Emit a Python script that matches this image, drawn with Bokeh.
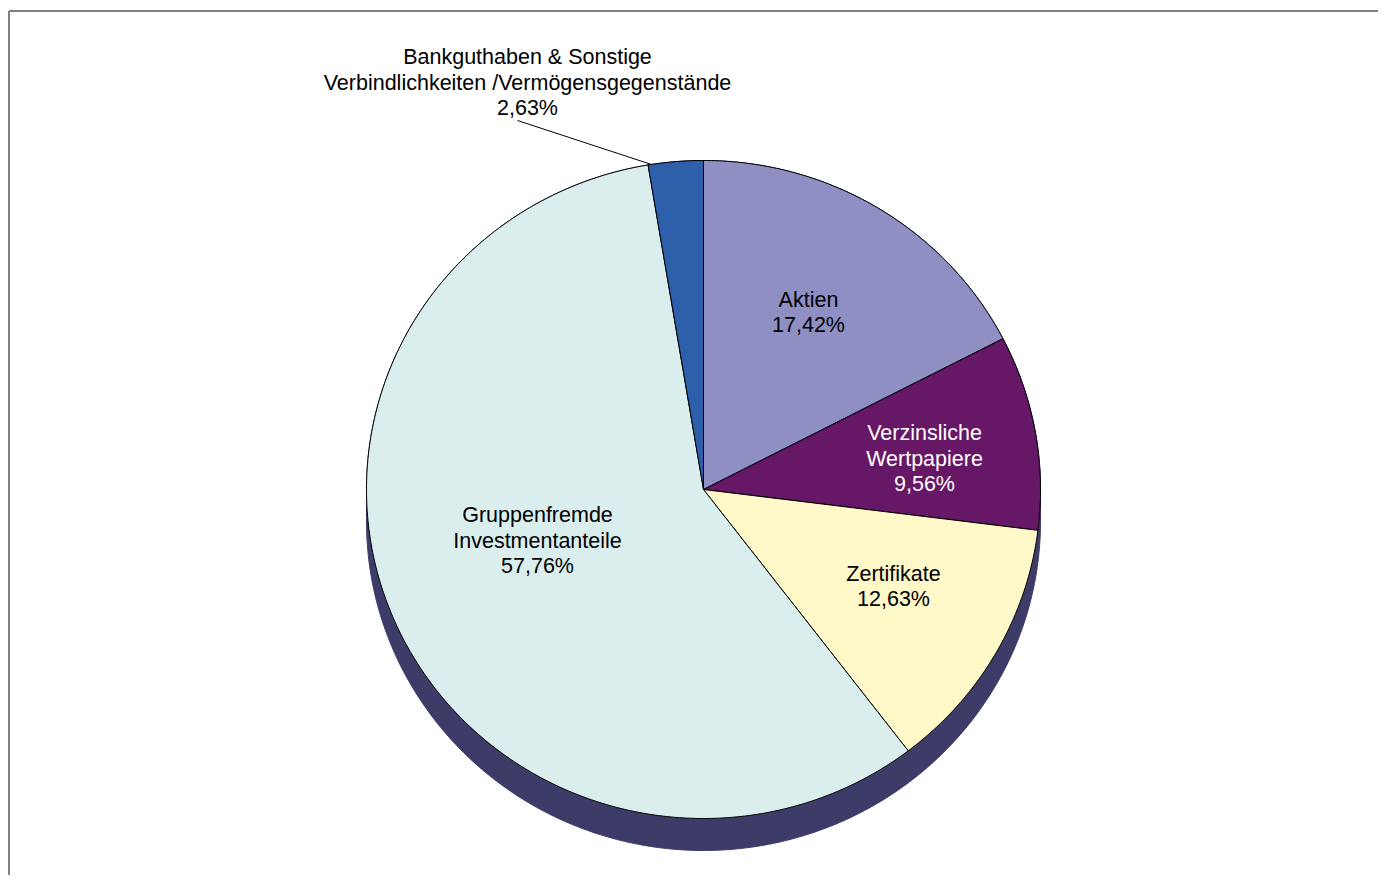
import numpy as np
from bokeh.plotting import figure
from bokeh.models import Range1d
from bokeh.core.properties import value
from bokeh.embed import file_html
from bokeh.resources import INLINE

# ---- data ----
categories = ["Aktien", "Verzinsliche Wertpapiere", "Zertifikate",
              "Gruppenfremde Investmentanteile",
              "Bankguthaben & Sonstige Verbindlichkeiten /Vermögensgegenstände"]
shares = [17.42, 9.56, 12.63, 57.76, 2.63]
label_lines = [
    ["Aktien", "17,42%"],
    ["Verzinsliche", "Wertpapiere", "9,56%"],
    ["Zertifikate", "12,63%"],
    ["Gruppenfremde", "Investmentanteile", "57,76%"],
    ["Bankguthaben & Sonstige", "Verbindlichkeiten /Vermögensgegenstände", "2,63%"],
]
colors = ["#8f8fc4", "#661866", "#fff8c8", "#dbeeee", "#2e5fab"]
text_colors = ["black", "white", "black", "black", "black"]
label_anchor = [(808, 312), (924, 458), (893, 586), (537, 540), (527, 82)]

# ---- geometry (screen pixels) ----
W, H = 1378, 875
cx, cy, rx, ry = 703.0, 489.0, 337.0, 329.0
depth = 32.0
line_h = 25.5

p = figure(width=W, height=H, output_backend="svg", toolbar_location=None,
           x_range=Range1d(0, W), y_range=Range1d(H, 0),
           min_border=0, outline_line_color=None, background_fill_color="white",
           border_fill_color="white")
p.axis.visible = False
p.xgrid.visible = False
p.ygrid.visible = False

# chart border (top and left)
p.line([8.5, W], [10.5, 10.5], line_color="#808080", line_width=2)
p.line([8.5, 8.5], [10.5, H], line_color="#808080", line_width=2)

# 3D shadow: hull of ellipse and shifted ellipse
a1 = np.linspace(0, np.pi, 300)
a2 = np.linspace(np.pi, 2 * np.pi, 300)
sx = np.concatenate([cx + rx * np.cos(a1), cx + rx * np.cos(a2)])
sy = np.concatenate([cy - ry * np.sin(a1), cy + depth - ry * np.sin(a2)])
p.patch(sx, sy, fill_color="#3d3b67", line_color="#3d3b67", line_width=1)

# slices, clockwise from 12 o'clock
total = sum(shares)
cum = np.cumsum([0] + shares) / total * 2 * np.pi
xs, ys = [], []
for i in range(len(shares)):
    th = np.linspace(cum[i], cum[i + 1], max(8, int(shares[i] * 8)))
    xs.append(np.concatenate([[cx], cx + rx * np.sin(th), [cx]]))
    ys.append(np.concatenate([[cy], cy - ry * np.cos(th), [cy]]))
p.patches(xs, ys, fill_color=colors, line_color="black", line_width=1)

# leader line for the small slice
edge_x = cx + rx * np.sin(cum[4] + 0.01)
edge_y = cy - ry * np.cos(cum[4] + 0.01)
p.line([517, edge_x], [120, edge_y], line_color="black", line_width=1)

# labels
for lines, (ax, ay), tc in zip(label_lines, label_anchor, text_colors):
    n = len(lines)
    for k, s in enumerate(lines):
        yy = ay + (k - (n - 1) / 2) * line_h
        p.text(x=[ax], y=[yy], text=[s], text_align="center", text_baseline="middle",
               text_font=value("Liberation Sans"), text_font_size="21.5px",
               text_color=tc)

open("out.html", "w").write(file_html(p, INLINE))
